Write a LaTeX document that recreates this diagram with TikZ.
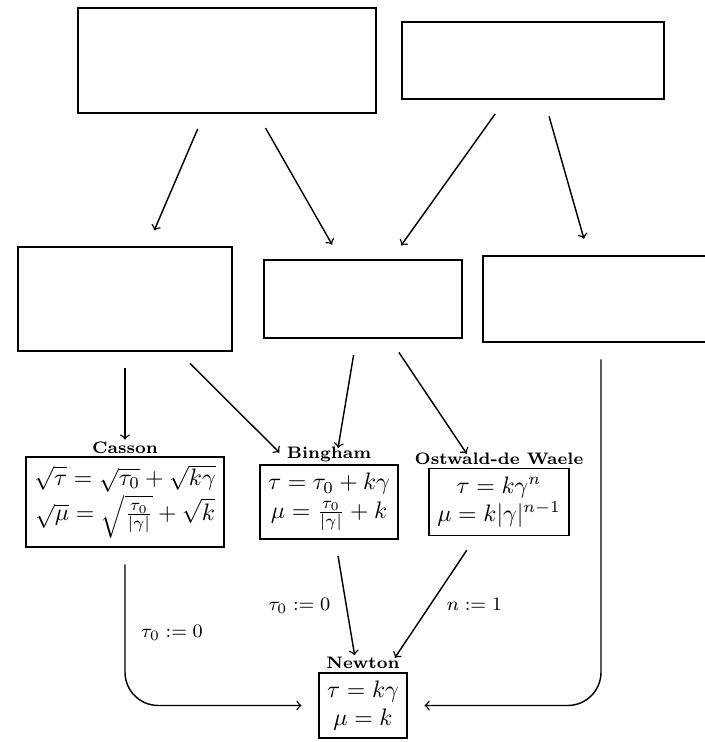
\documentclass[tikz,border=0pt]{standalone}

\begin{document}
\begin{tikzpicture}[x=0.42pt,y=-0.42pt,
    box/.style={draw,thick},
    law/.style={draw,thick,align=center},
    title/.style={font=\scriptsize\bfseries,inner sep=1pt},
    arr/.style={->,semithick,shorten >=7pt,shorten <=7pt},
    cond/.style={font=\footnotesize,inner sep=6.5pt}]
  \useasboundingbox (0,0) rectangle (704,742);

  \node[box,minimum width=125.2pt,minimum height=43.8pt] (topl) at (227,60.5) {};
  \node[box,minimum width=109.9pt,minimum height=32.5pt] (topr) at (533.2,60.7) {};

  \node[box,minimum width=89.9pt,minimum height=43.7pt] (midl) at (125,298.7) {};
  \node[box,minimum width=83.2pt,minimum height=32.6pt] (midc) at (363,298.8) {};
  \node[box,minimum width=99.1pt,minimum height=36.1pt] (midr) at (601,298.7) {};

  \node[law,label={[title]above:Casson}] (casson) at (125,502)
    {$\sqrt{\tau} = \sqrt{\tau_0} + \sqrt{k\gamma}$\\
     $\sqrt{\mu} = \sqrt{\frac{\tau_0}{|\gamma|}} + \sqrt{k}$};
  \node[law,label={[title]above:Bingham}] (bingham) at (329,502)
    {$\tau = \tau_0 + k\gamma$\\ $\mu = \frac{\tau_0}{|\gamma|} + k$};
  \node[law,label={[title]above:Ostwald-de Waele}] (ostwald) at (499,502)
    {$\tau = k\gamma^n$\\ $\mu = k|\gamma|^{n-1}$};
  \node[law,label={[title]above:Newton}] (newton) at (363,705.5)
    {$\tau = k\gamma$\\ $\mu = k$};

  \draw[arr] (topl) -- (midl);
  \draw[arr] (topl) -- (midc);
  \draw[arr] (topr) -- (midc);
  \draw[arr] (topr) -- (midr);

  \draw[arr] (midl) -- (casson);
  \draw[arr] (midl) -- (bingham);
  \draw[arr] (midc) -- (bingham);
  \draw[arr] (midc) -- (ostwald);

  \draw[arr,rounded corners=14pt] (casson) |- node[cond,right,pos=0.27] {$\tau_0 := 0$} (newton);
  \draw[arr] (bingham) -- node[cond,left] {$\tau_0 := 0$} (newton);
  \draw[arr] (ostwald) -- node[cond,right] {$n := 1$} (newton);
  \draw[arr,rounded corners=14pt] (midr) |- (newton);
\end{tikzpicture}
\end{document}
